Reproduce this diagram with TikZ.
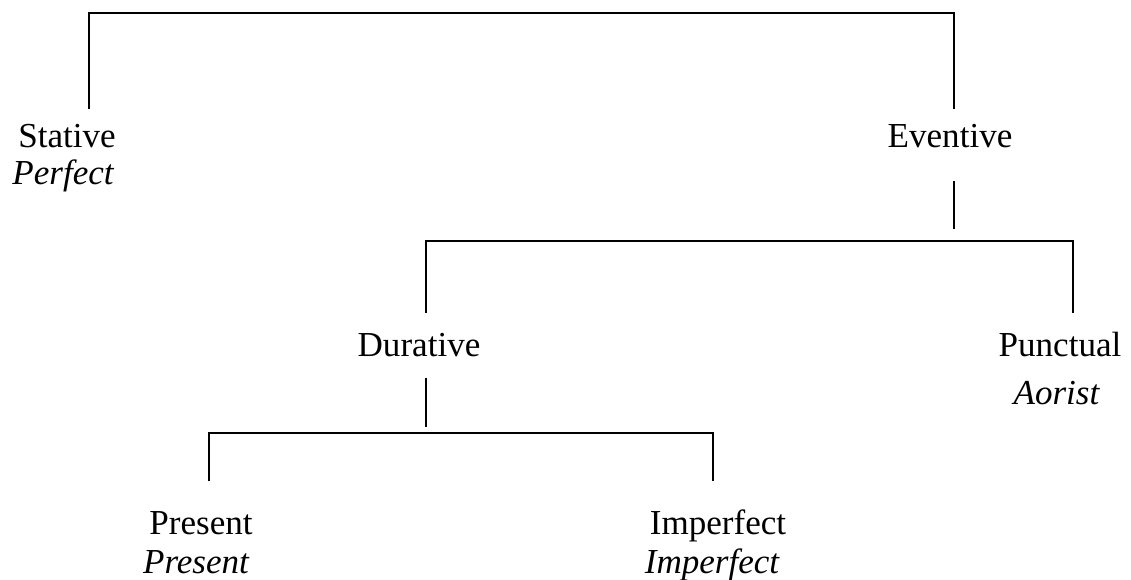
\documentclass[tikz,border=0pt]{standalone}
\usepackage{fontspec}
\setmainfont{Liberation Serif}
\begin{document}
\begin{tikzpicture}[x=0.75pt,y=-0.75pt,
  cat/.style={anchor=base,inner sep=0pt,font=\fontsize{26.3}{30}\selectfont},
  tense/.style={cat,font=\fontsize{26.3}{30}\selectfont\itshape},
  branch/.style={line width=1.1pt}]
\useasboundingbox (0,0) rectangle (1131,580);

\node[cat] (stative) at (67,148) {Stative};
\node[tense] (perfect) at (63,185) {Perfect};
\node[cat] (eventive) at (950,148) {Eventive};
\node[cat] (durative) at (419,357) {Durative};
\node[cat] (punctual) at (1060,357) {Punctual};
\node[tense] (aorist) at (1056.5,405) {Aorist};
\node[cat] (present) at (201,534) {Present};
\node[tense] (presentit) at (196,573) {Present};
\node[cat] (imperfect) at (718,534) {Imperfect};
\node[tense] (imperfectit) at (712,573) {Imperfect};

\coordinate (stA) at (89,109);
\coordinate (evA) at (954,109);
\coordinate (evB) at (954,181);
\coordinate (evC) at (954,229);
\coordinate (duA) at (426,313);
\coordinate (puA) at (1073,313);
\coordinate (duB) at (426,378);
\coordinate (duC) at (426,427);
\coordinate (prA) at (209,481);
\coordinate (imA) at (713,481);

\draw[branch] (stA) -- ++(0,-96) -| (evA);
\draw[branch] (evB) -- (evC);
\draw[branch] (duA) -- ++(0,-72) -| (puA);
\draw[branch] (duB) -- (duC);
\draw[branch] (prA) -- ++(0,-48) -| (imA);

\end{tikzpicture}
\end{document}
